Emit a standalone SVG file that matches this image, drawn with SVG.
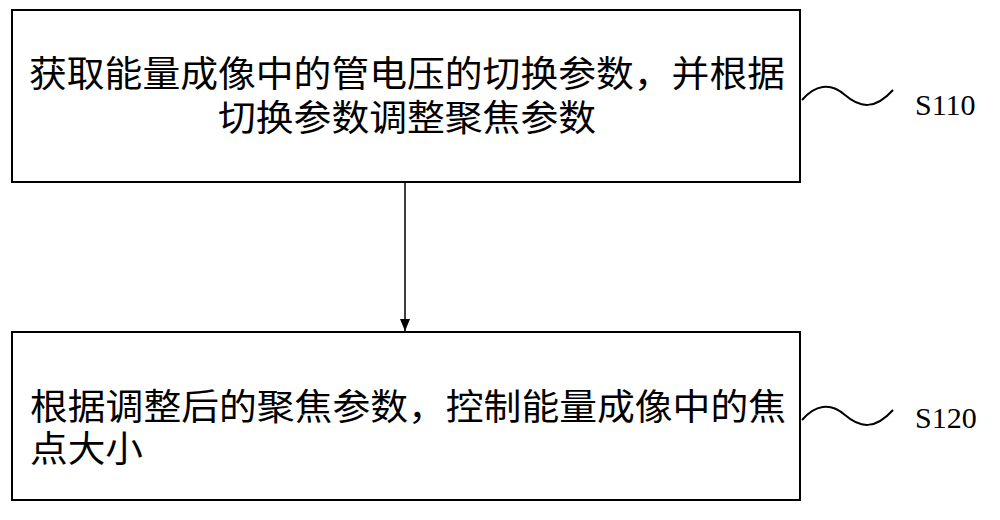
<svg xmlns="http://www.w3.org/2000/svg" width="1000" height="520" viewBox="0 0 1000 520">
<style>
.box{fill:#fff;stroke:#000;stroke-width:2}
.t{font-family:"Liberation Serif","Noto Sans CJK SC",serif;font-size:36px;fill:#000}
.s{font-family:"Liberation Serif",serif;font-size:30px;fill:#000}
.w{fill:none;stroke:#000;stroke-width:2}
</style>
<defs><marker id="a" markerWidth="12" markerHeight="10" refX="12" refY="5" orient="auto" markerUnits="userSpaceOnUse" viewBox="0 0 12 10"><path d="M0,0L12,5L0,10Z" fill="#000"/></marker></defs>
<rect width="1000" height="520" fill="#fff"/>
<g id="n1"><rect class="box" x="12" y="10" width="788" height="172"/>
<text class="t" x="407" y="87" text-anchor="middle" textLength="756" lengthAdjust="spacingAndGlyphs">获取能量成像中的管电压的切换参数，并根据</text>
<text class="t" x="407" y="131" text-anchor="middle" textLength="378" lengthAdjust="spacingAndGlyphs">切换参数调整聚焦参数</text></g>
<g id="n2"><rect class="box" x="12" y="332" width="788" height="168"/>
<text class="t" x="30" y="420" textLength="756" lengthAdjust="spacingAndGlyphs">根据调整后的聚焦参数，控制能量成像中的焦</text>
<text class="t" x="30" y="462" textLength="113" lengthAdjust="spacingAndGlyphs">点大小</text></g>
<g id="l1"><path class="w" d="M802,100 C815,85 830,82 845,95 C860,108 875,110 893,90"/><text class="s" x="915" y="115">S110</text></g>
<g id="l2"><path class="w" d="M802,420 C815,405 830,402 845,415 C860,428 875,430 893,410"/><text class="s" x="915" y="428">S120</text></g>
<g id="c"><line x1="405" y1="182" x2="405" y2="331" stroke="#000" stroke-width="1.5" marker-end="url(#a)"/></g>
</svg>
